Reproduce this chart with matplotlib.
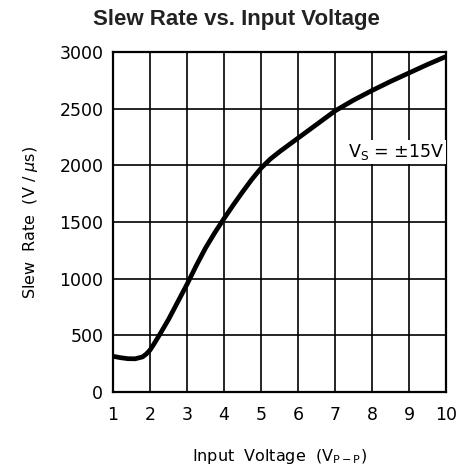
import matplotlib
matplotlib.use("Agg")
import matplotlib.pyplot as plt

# data
input_voltage = [1.0, 1.2, 1.4, 1.6, 1.8, 1.9, 2.0, 2.1, 2.25, 2.5, 2.75, 3.0, 3.25, 3.5,
                 3.75, 4.0, 4.25, 4.5, 4.75, 5.0, 5.25, 5.5, 5.75, 6.0, 6.5, 7.0, 7.5,
                 8.0, 8.5, 9.0, 9.5, 10.0]
slew_rate = [315, 303, 294, 293, 310, 335, 370, 420, 500, 640, 795, 950, 1115, 1270,
             1405, 1530, 1650, 1765, 1875, 1975, 2055, 2120, 2180, 2240, 2360, 2480, 2575,
             2660, 2740, 2815, 2890, 2960]
x_ticks = [1, 2, 3, 4, 5, 6, 7, 8, 9, 10]
y_ticks = [0, 500, 1000, 1500, 2000, 2500, 3000]

fig = plt.figure(figsize=(4.64, 4.74), dpi=100)
ax = fig.add_axes([113/464, 82/474, 333/464, 340/474])

ax.plot(input_voltage, slew_rate, color="black", linewidth=3.4, solid_joinstyle="round",
        solid_capstyle="butt", zorder=3)

ax.set_xlim(1, 10)
ax.set_ylim(0, 3000)
ax.set_xticks(x_ticks)
ax.set_yticks(y_ticks)
ax.set_xticklabels([str(t) for t in x_ticks])
ax.set_yticklabels([str(t) for t in y_ticks])
ax.grid(True, color="black", linewidth=1.2)
ax.tick_params(length=0, labelsize=12.5, pad=7)
ax.tick_params(axis="x", pad=10)
for s in ax.spines.values():
    s.set_linewidth(1.6)

ax.set_xlabel(r"Input  Voltage  (V$_{\mathregular{P-P}}$)", fontsize=11.5, labelpad=17)
ax.set_ylabel(r"Slew  Rate  (V / $\mu$s)", fontsize=11.5, labelpad=14)

ax.text(9.95, 2120, r"V$_{\mathregular{S}}$ = $\pm$15V", fontsize=12.5, ha="right", va="center",
        bbox=dict(facecolor="white", edgecolor="none", pad=1.5), zorder=4)

fig.text(236/464, 1 - 20/474, "Slew Rate vs. Input Voltage", ha="center", va="center",
         fontsize=16, fontweight="bold", family="Liberation Sans", color="#222222")

fig.savefig("out.png", dpi=100)
